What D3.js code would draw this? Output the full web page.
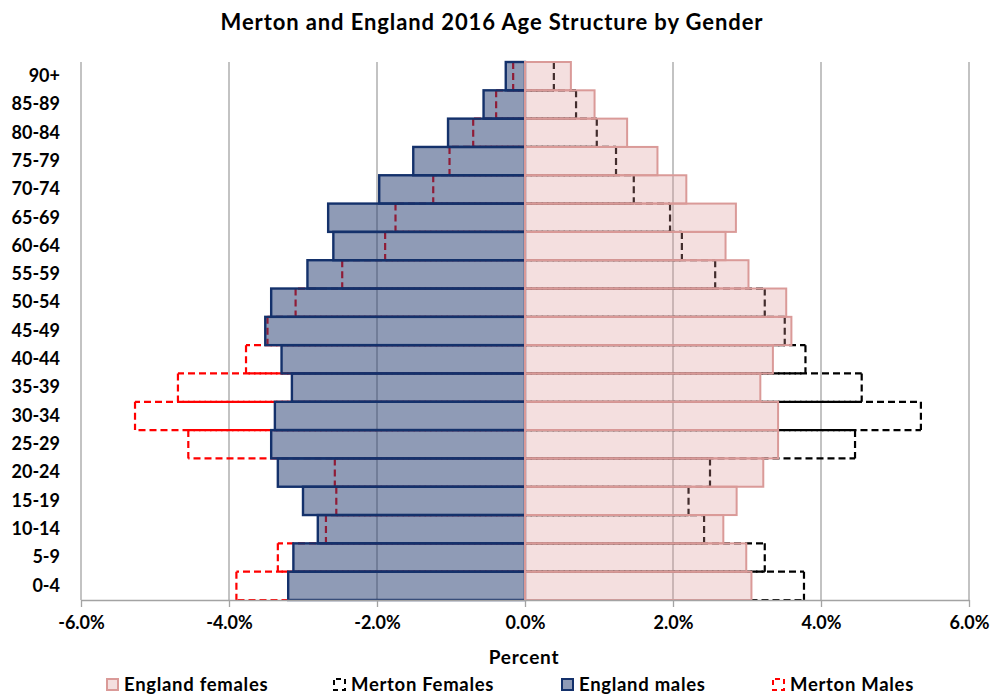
<!DOCTYPE html>
<html>
<head>
<meta charset="utf-8">
<script src="https://cdn.jsdelivr.net/npm/d3@7"></script>
<style>
  html, body { margin: 0; padding: 0; background: #fff; }
  svg { display: block; }
  text { font-family: Lato, "Open Sans", sans-serif; font-weight: bold; fill: #000; }
</style>
</head>
<body>
<svg id="chart" width="991" height="694"></svg>
<script>
// ---- data (percent of population), top row first ----
const ageGroups = ["90+","85-89","80-84","75-79","70-74","65-69","60-64","55-59","50-54","45-49",
                   "40-44","35-39","30-34","25-29","20-24","15-19","10-14","5-9","0-4"];
const englandFemales = [0.62,0.94,1.38,1.79,2.18,2.85,2.71,3.02,3.53,3.60,3.35,3.18,3.42,3.42,3.22,2.86,2.68,2.99,3.06];
const mertonFemales  = [0.39,0.69,0.97,1.23,1.47,1.96,2.12,2.57,3.24,3.51,3.79,4.55,5.35,4.46,2.50,2.21,2.42,3.24,3.77];
const englandMales   = [0.26,0.56,1.04,1.51,1.97,2.66,2.59,2.94,3.43,3.51,3.29,3.15,3.38,3.43,3.34,3.00,2.80,3.13,3.20];
const mertonMales    = [0.16,0.39,0.70,1.02,1.24,1.75,1.89,2.47,3.10,3.48,3.77,4.69,5.27,4.55,2.57,2.55,2.69,3.34,3.90];
const xTicks = [-6,-4,-2,0,2,4,6];
const seriesNames = ["England females","Merton Females","England males","Merton Males"];
const titleText = "Merton and England 2016 Age Structure by Gender";
const xTitle = "Percent";

// ---- layout ----
const svg = d3.select("#chart");
const plot = {left: 81, right: 969, top: 62, bottom: 600};

const x = d3.scaleLinear().domain([-6, 6]).range([plot.left, plot.right]);
const y = d3.scaleBand().domain(ageGroups).range([plot.top, plot.bottom]).paddingInner(0).paddingOuter(0);

const col = {
  efFill: "rgb(217,150,148)", efStroke: "#DA9A98",
  emFill: "rgb(31,56,110)",   emStroke: "#14316B",
  mf: "#000000", mm: "#FF0000", grid: "#A3A3A3"
};

// title
svg.append("text").attr("x", 492).attr("y", 30).attr("text-anchor", "middle")
  .style("font-size", "22px").style("letter-spacing", "0.9px").text(titleText);

// gridlines
svg.append("g").selectAll("line").data(xTicks).join("line")
  .attr("x1", d => x(d)).attr("x2", d => x(d))
  .attr("y1", plot.top).attr("y2", plot.bottom)
  .attr("stroke", col.grid).attr("stroke-width", 1.3);

const rows = ageGroups.map((g, i) => ({g, ef: englandFemales[i], mf: mertonFemales[i], em: englandMales[i], mm: mertonMales[i]}));

// Merton (dashed outlines, no fill) drawn first, edge by edge from the centre outwards
const line = d3.line();
function mertonOutline(key, sign, color) {
  const g = svg.append("g").attr("fill", "none").attr("stroke", color)
    .attr("stroke-width", 2.2).attr("stroke-dasharray", "7,4");
  g.selectAll("path.top").data(rows).join("path").attr("class", "top")
    .attr("d", d => line([[x(0), y(d.g)], [x(sign * d[key]), y(d.g)]]));
  g.selectAll("path.bot").data(rows).join("path").attr("class", "bot")
    .attr("stroke-dashoffset", 5.5)
    .attr("d", d => line([[x(0), y(d.g) + y.bandwidth()], [x(sign * d[key]), y(d.g) + y.bandwidth()]]));
  g.selectAll("path.end").data(rows).join("path").attr("class", "end")
    .attr("d", d => line([[x(sign * d[key]), y(d.g)], [x(sign * d[key]), y(d.g) + y.bandwidth()]]));
}
mertonOutline("mf", 1, col.mf);
mertonOutline("mm", -1, col.mm);

// England males
const gm = svg.append("g");
gm.selectAll("rect.fill").data(rows).join("rect").attr("class", "fill")
  .attr("x", d => x(-d.em)).attr("y", d => y(d.g))
  .attr("width", d => x(0) - x(-d.em)).attr("height", y.bandwidth())
  .attr("fill", col.emFill).attr("fill-opacity", 0.5).attr("stroke", "none");
gm.selectAll("rect.line").data(rows).join("rect").attr("class", "line")
  .attr("x", d => x(-d.em)).attr("y", d => y(d.g))
  .attr("width", d => x(0) - x(-d.em)).attr("height", y.bandwidth())
  .attr("fill", "none").attr("stroke", col.emStroke).attr("stroke-width", 2.4);

// England females
const gf = svg.append("g");
gf.selectAll("rect.fill").data(rows).join("rect").attr("class", "fill")
  .attr("x", x(0)).attr("y", d => y(d.g))
  .attr("width", d => x(d.ef) - x(0)).attr("height", y.bandwidth())
  .attr("fill", col.efFill).attr("fill-opacity", 0.3).attr("stroke", "none");
gf.selectAll("rect.line").data(rows).join("rect").attr("class", "line")
  .attr("x", x(0)).attr("y", d => y(d.g))
  .attr("width", d => x(d.ef) - x(0)).attr("height", y.bandwidth())
  .attr("fill", "none").attr("stroke", col.efStroke).attr("stroke-width", 2);

// x axis
const xAxis = d3.axisBottom(x).tickValues(xTicks).tickSizeInner(7).tickSizeOuter(0).tickPadding(9)
  .tickFormat(d => (d < 0 ? "-" : "") + Math.abs(d).toFixed(1) + "%");
const ax = svg.append("g").attr("transform", `translate(0,${plot.bottom})`).call(xAxis);
ax.select(".domain").attr("stroke", col.grid).attr("stroke-width", 1.3);
ax.selectAll(".tick line").attr("stroke", col.grid).attr("stroke-width", 1.3);
ax.selectAll(".tick text").style("font-size", "18px").style("font-family", "Lato, sans-serif")
  .style("font-weight", "bold").attr("fill", "#000");

// y axis labels
const yAxis = d3.axisLeft(y).tickSize(0).tickPadding(0);
const ay = svg.append("g").attr("transform", `translate(60,0)`).call(yAxis);
ay.select(".domain").remove();
ay.selectAll(".tick text").style("font-size", "18px").style("font-family", "Lato, sans-serif")
  .style("font-weight", "bold").attr("fill", "#000");

// x title
svg.append("text").attr("x", 524).attr("y", 664).attr("text-anchor", "middle")
  .style("font-size", "19px").style("letter-spacing", "0.8px").text(xTitle);

// legend
const legendX = [106, 333, 561, 772];
const lg = svg.append("g").attr("transform", "translate(0,678)");
seriesNames.forEach((name, i) => {
  const g = lg.append("g").attr("transform", `translate(${legendX[i]},0)`);
  const r = g.append("rect").attr("x", 1).attr("y", 1).attr("width", 11).attr("height", 11);
  if (i === 0) r.attr("fill", col.efFill).attr("fill-opacity", 0.3).attr("stroke", col.efStroke).attr("stroke-width", 2);
  if (i === 1) r.attr("fill", "none").attr("stroke", col.mf).attr("stroke-width", 2).attr("stroke-dasharray", "5,4").attr("stroke-dashoffset", -2);
  if (i === 2) r.attr("fill", col.emFill).attr("fill-opacity", 0.5).attr("stroke", col.emStroke).attr("stroke-width", 2);
  if (i === 3) r.attr("fill", "none").attr("stroke", col.mm).attr("stroke-width", 2).attr("stroke-dasharray", "5,4").attr("stroke-dashoffset", -2);
  g.append("text").attr("x", 18).attr("y", 12.5).style("font-size", "18.5px").style("letter-spacing", "0.7px").text(name);
});
</script>
</body>
</html>
